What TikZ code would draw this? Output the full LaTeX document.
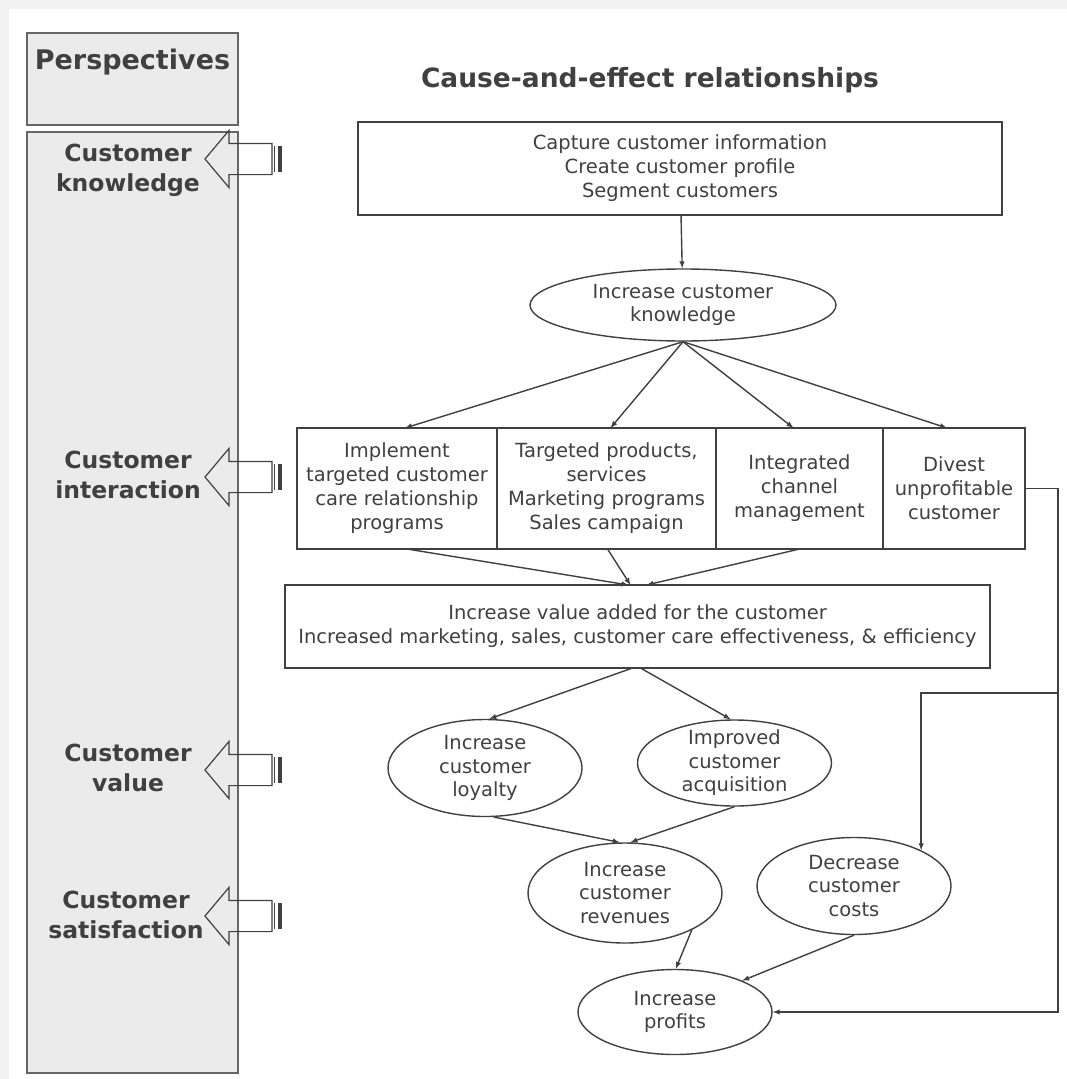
\documentclass[tikz,border=0pt]{standalone}
\usepackage{fontspec}
\setmainfont{DejaVu Sans}
\usetikzlibrary{positioning}
\usetikzlibrary{shapes.geometric}
\usetikzlibrary{shapes.arrows}
\usetikzlibrary{arrows}
\definecolor{ink}{gray}{0.25}
\definecolor{lanegray}{gray}{0.92}
\definecolor{pagegray}{gray}{0.95}
\tikzset{
every node/.style={ % all texts in dark gray
text=ink},
block/.style={ % plain rectangles
draw=ink, line width=1.4pt, fill=white,
align=center, inner sep=0pt, outer sep=0pt,
font=\fontsize{19.5}{24}\selectfont},
oval/.style={ % ellipses
ellipse, draw=ink, line width=1.4pt, fill=white,
align=center, inner sep=-4pt, minimum width=194pt,
font=\fontsize{19.5}{23.5}\selectfont},
pbox/.style={ % perspectives column
draw=ink!80, fill=lanegray, line width=1.4pt, inner sep=0pt, outer sep=0pt},
plabel/.style={ % perspective names
align=center, font=\bfseries\fontsize{23.5}{30}\selectfont},
hollow/.style={ % big open arrows
single arrow, draw=ink, line width=1.2pt,
shape border rotate=180, minimum height=67pt,
inner xsep=0pt, inner ysep=15pt, outer sep=0pt,
single arrow head extend=13pt, single arrow tip angle=100},
thinbar/.style={draw=ink, line width=1pt},
thickbar/.style={draw=ink, line width=4pt},
wire/.style={ % elbow lines on the right
draw=ink, ->, >=latex, line width=1.4pt},
every edge/.style={ % connectors
draw=ink, ->, >=latex, line width=1.4pt}}

\begin{document}
\begin{tikzpicture}[x=1pt,y=-1pt]
\fill[pagegray] (0,0) rectangle (1067,1079);
\fill[white] (9,9) rectangle (1067,1079);
\useasboundingbox (0,0) rectangle (1067,1079);

% perspectives column
\node[pbox, anchor=north west, minimum width=211pt, minimum height=92pt] (persp) at (27,33) {};
\node[font=\bfseries\fontsize{27}{32}\selectfont] (ptitle) at (132.5,62) {Perspectives};
\node[pbox, anchor=north west, minimum width=211pt, minimum height=941pt] (lane) at (27,132) {};
\node[plabel] (lk) at (128,170) {Customer\\knowledge};
\node[plabel] (li) at (128,475) {Customer\\interaction};
\node[plabel] (lv) at (128,768) {Customer\\value};
\node[plabel] (ls) at (126,915) {Customer\\satisfaction};

% open arrows
\node[hollow, anchor=tip] (ak) at (205,159) {};
\node[hollow, anchor=tip] (ai) at (205,477) {};
\node[hollow, anchor=tip] (av) at (205,770) {};
\node[hollow, anchor=tip] (as) at (205,916) {};
\draw[thinbar] ([xshift=2pt]ak.tail) +(0,-13) -- +(0,13);
\draw[thickbar] ([xshift=8pt]ak.tail) +(0,-13) -- +(0,13);
\draw[thinbar] ([xshift=2pt]ai.tail) +(0,-13) -- +(0,13);
\draw[thickbar] ([xshift=8pt]ai.tail) +(0,-13) -- +(0,13);
\draw[thinbar] ([xshift=2pt]av.tail) +(0,-13) -- +(0,13);
\draw[thickbar] ([xshift=8pt]av.tail) +(0,-13) -- +(0,13);
\draw[thinbar] ([xshift=2pt]as.tail) +(0,-13) -- +(0,13);
\draw[thickbar] ([xshift=8pt]as.tail) +(0,-13) -- +(0,13);

% cause and effect chain
\node[font=\bfseries\fontsize{26.5}{32}\selectfont] (title) at (650,80) {Cause-and-effect relationships};
\node[block, minimum width=644pt, minimum height=93pt] (cap) at (680,168.5) {Capture customer information\\Create customer profile\\Segment customers};
\node[oval, minimum width=306pt, minimum height=72pt] (know) at (683,305) {Increase customer\\knowledge};

\node[block, minimum width=200pt, minimum height=121pt] (care) at (397,488.5) {Implement\\targeted customer\\care relationship\\programs};
\node[block, minimum width=219pt, minimum height=121pt, right=0pt of care] (prod) {Targeted products,\\services\\Marketing programs\\Sales campaign};
\node[block, minimum width=167pt, minimum height=121pt, right=0pt of prod] (chan) {Integrated\\channel\\management};
\node[block, minimum width=142pt, minimum height=121pt, right=0pt of chan] (divest) {Divest\\unprofitable\\customer};

\node[block, minimum width=705pt, minimum height=83pt] (val) at (637.5,626.5) {Increase value added for the customer\\Increased marketing, sales, customer care effectiveness, \& efficiency};

\node[oval, minimum height=97pt] (loy) at (485,768) {Increase\\customer\\loyalty};
\node[oval, minimum height=86pt] (acq) at (734.5,763) {Improved\\customer\\acquisition};
\node[oval, minimum height=100pt] (rev) at (625,893) {Increase\\customer\\revenues};
\node[oval, minimum height=97pt] (cost) at (854,886) {Decrease\\customer\\costs};
\node[oval, minimum height=85pt] (prof) at (675,1012) {Increase\\profits};

\draw (cap) edge (know);
\draw (know.south) edge ([xshift=8pt]care.north);
\draw (know.south) edge ([xshift=4pt]prod.north);
\draw (know.south) edge ([xshift=-6pt]chan.north);
\draw (know.south) edge ([xshift=-7pt]divest.north);
\draw ([xshift=10pt]care.south) edge ([xshift=-9pt]val.north);
\draw ([xshift=1pt]prod.south) edge ([xshift=-7pt]val.north);
\draw (chan.south) edge ([xshift=9pt]val.north);
\draw ([xshift=-5pt]val.south) edge (loy.85);
\draw ([xshift=3pt]val.south) edge (acq.95);
\draw (loy.-80) edge (rev.96);
\draw (acq.south) edge (rev.84);
\draw (rev.-29) edge (prof.89);
\draw (cost.south) edge (prof.25);

\coordinate (rail) at (1058,1012);
\coordinate (split) at (1058,693);
\draw[wire] (divest.east) -| (rail) -- (prof.east);
\draw[wire] (split) -| (cost.28);
\end{tikzpicture}
\end{document}
